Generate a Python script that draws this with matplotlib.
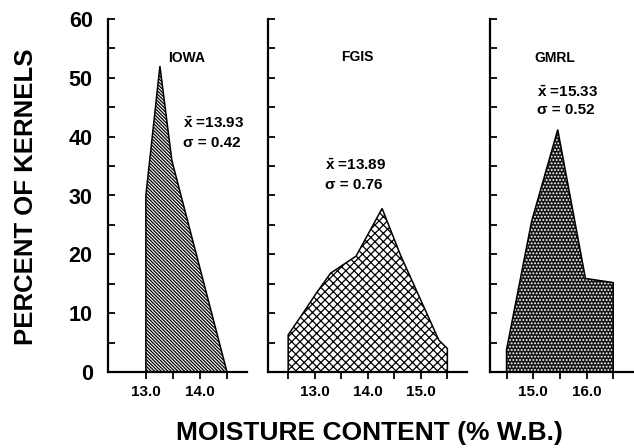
import matplotlib
matplotlib.use("Agg")
from matplotlib import pyplot as plt

# moisture distributions
iowa_x = [13.0, 13.0, 13.26, 13.48, 14.5]
iowa_y = [0, 30, 52, 36, 0]

fgis_x = [12.5, 12.5, 12.78, 13.03, 13.3, 13.78, 14.27, 14.62, 15.34, 15.5, 15.5]
fgis_y = [0, 6.3, 10.0, 13.4, 16.8, 19.7, 27.8, 19.8, 5.4, 4.0, 0]

gmrl_x = [14.5, 14.5, 14.97, 15.46, 15.98, 16.5, 16.5]
gmrl_y = [0, 3.8, 25.6, 41.2, 15.9, 15.2, 0]

labels = ["IOWA", "FGIS", "GMRL"]
means = ["13.93", "13.89", "15.33"]
sigmas = ["0.42", "0.76", "0.52"]

plt.rcParams["font.family"] = ["Liberation Sans", "DejaVu Sans"]
plt.rcParams["font.weight"] = "bold"
plt.rcParams["mathtext.fontset"] = "custom"
plt.rcParams["mathtext.bf"] = "Liberation Sans:bold"
plt.rcParams["mathtext.rm"] = "Liberation Sans:bold"
plt.rcParams["hatch.linewidth"] = 0.9

W, H = 634, 448
fig = plt.figure(figsize=(W / 100, H / 100), dpi=100)


def make_axes(left, right, xlim, xticks, xlabels, ylabels):
    ax = fig.add_axes([left / W, (H - 372) / H, (right - left) / W, 353 / H])
    ax.set_xlim(*xlim)
    ax.set_ylim(0, 60)
    for s in ["top", "right"]:
        ax.spines[s].set_visible(False)
    for s in ["left", "bottom"]:
        ax.spines[s].set_linewidth(1.6)
    ax.set_xticks(xticks)
    ax.set_xticklabels(xlabels, fontsize=11, fontweight="bold")
    ax.tick_params(axis="x", direction="out", length=5, width=1.3, pad=4)
    ax.set_yticks(range(0, 61, 10))
    ax.set_yticks(range(5, 60, 10), minor=True)
    if ylabels:
        ax.set_yticklabels([str(v) for v in range(0, 61, 10)], fontsize=15.5,
                           fontweight="bold")
    else:
        ax.set_yticklabels([])
    ax.tick_params(axis="y", which="both", direction="in", length=5, width=1.3,
                   pad=11)
    return ax


ax1 = make_axes(108, 247, (12.30, 14.87), [13.0, 13.5, 14.0, 14.5],
                ["13.0", "", "14.0", ""], True)
ax2 = make_axes(268, 467, (12.12, 15.87), [12.5, 13.0, 13.5, 14.0, 14.5, 15.0, 15.5],
                ["", "13.0", "", "14.0", "", "15.0", ""], False)
ax3 = make_axes(490, 634, (14.19, 16.89), [14.5, 15.0, 15.5, 16.0, 16.5],
                ["", "15.0", "", "16.0", ""], False)

ax1.fill(iowa_x, iowa_y, facecolor="white", edgecolor="black",
         hatch="\\" * 10, linewidth=1.1)
ax2.fill(fgis_x, fgis_y, facecolor="white", edgecolor="black",
         hatch="xxxx", linewidth=1.1)
ax3.fill(gmrl_x, gmrl_y, facecolor="#151515", edgecolor="white",
         hatch=".....", linewidth=0)
ax3.fill(gmrl_x, gmrl_y, facecolor="none", edgecolor="black", linewidth=1.1)

# panel annotations
xbar = r"$\mathbf{\bar{x}}$ ="
txt = dict(fontsize=11, fontweight="bold")
lab = dict(fontsize=10, fontweight="bold")
ax1.text(13.76, 53.4, labels[0], ha="center", va="center", **lab)
ax1.text(13.69, 42.3, xbar + means[0], ha="left", va="center", **txt)
ax1.text(13.69, 39.0, "\u03c3 = " + sigmas[0], ha="left", va="center", **txt)

ax2.text(13.81, 53.6, labels[1], ha="center", va="center", **lab)
ax2.text(13.19, 35.2, xbar + means[1], ha="left", va="center", **txt)
ax2.text(13.19, 31.8, "\u03c3 = " + sigmas[1], ha="left", va="center", **txt)

ax3.text(15.41, 53.4, labels[2], ha="center", va="center", **lab)
ax3.text(15.07, 47.6, xbar + means[2], ha="left", va="center", **txt)
ax3.text(15.07, 44.6, "\u03c3 = " + sigmas[2], ha="left", va="center", **txt)

fig.text(26 / W, 1 - 197 / H, "PERCENT OF KERNELS", rotation=90,
         ha="center", va="center", fontsize=18.5, fontweight="bold")
fig.text(369 / W, 1 - 433 / H, "MOISTURE CONTENT (% W.B.)",
         ha="center", va="center", fontsize=19, fontweight="bold")

fig.savefig("out.png", dpi=100)
